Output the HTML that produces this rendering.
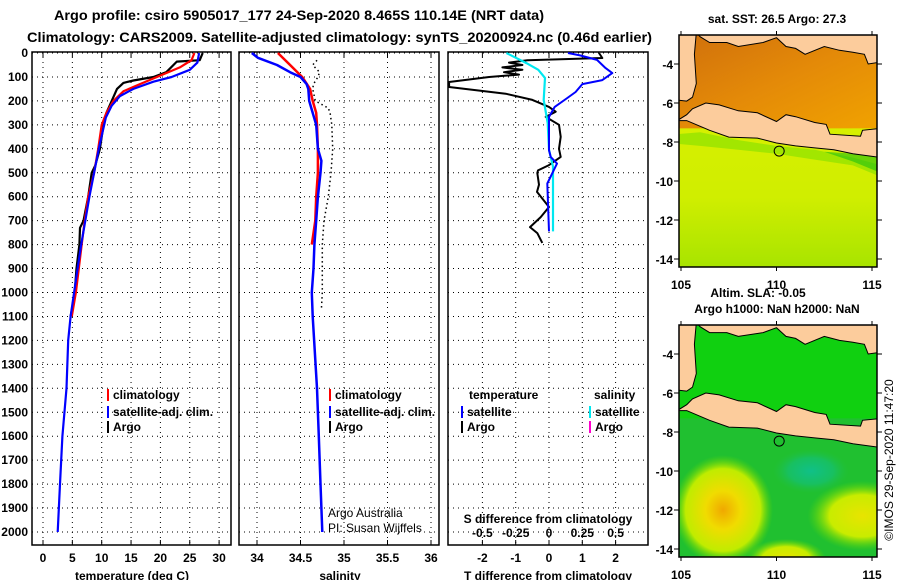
<!DOCTYPE html>
<html><head><meta charset="utf-8"><style>
html,body{margin:0;padding:0;background:#fff;}
svg{display:block;font-family:"Liberation Sans",sans-serif;}
.t{font-weight:bold;font-size:12px;fill:#000;}
.ttl{font-weight:bold;font-size:14px;fill:#000;}
.grid{stroke:#000;stroke-width:1;stroke-dasharray:1,4;fill:none;}
</style></head><body>
<svg id="fig" width="900" height="580" viewBox="0 0 900 580">
<defs>
<clipPath id="c1"><rect x="32" y="52" width="199" height="493"/></clipPath>
<clipPath id="c2"><rect x="239" y="52" width="200" height="493"/></clipPath>
<clipPath id="c3"><rect x="448" y="52" width="200" height="493"/></clipPath>
<clipPath id="cm1"><rect x="679" y="35" width="198" height="232"/></clipPath>
<clipPath id="cm2"><rect x="679" y="325" width="198" height="232"/></clipPath>
<linearGradient id="gN" x1="0" y1="0" x2="1" y2="1">
<stop offset="0" stop-color="#d0700c"/><stop offset="0.5" stop-color="#e48a08"/><stop offset="1" stop-color="#f0a200"/></linearGradient>
<linearGradient id="gS" x1="0" y1="0" x2="0" y2="1">
<stop offset="0" stop-color="#a8e800"/><stop offset="0.3" stop-color="#d8f000"/><stop offset="0.7" stop-color="#d0ee00"/><stop offset="1" stop-color="#a8e400"/></linearGradient>
<radialGradient id="gY" cx="0.5" cy="0.5" r="0.5">
<stop offset="0" stop-color="#f0a800"/><stop offset="0.35" stop-color="#f0dc00"/><stop offset="0.75" stop-color="#c0ec00"/><stop offset="1" stop-color="#60d800" stop-opacity="0"/></radialGradient>
<radialGradient id="gY2" cx="0.5" cy="0.5" r="0.5">
<stop offset="0" stop-color="#e8e400"/><stop offset="0.6" stop-color="#c8ec00"/><stop offset="1" stop-color="#60d800" stop-opacity="0"/></radialGradient>
<radialGradient id="gT" cx="0.5" cy="0.5" r="0.5">
<stop offset="0" stop-color="#10c088"/><stop offset="0.6" stop-color="#18c060"/><stop offset="1" stop-color="#20c040" stop-opacity="0"/></radialGradient>
</defs>

<text class="ttl" x="54" y="20" textLength="490" lengthAdjust="spacingAndGlyphs">Argo profile: csiro 5905017_177 24-Sep-2020 8.465S 110.14E (NRT data)</text>
<text class="ttl" x="27" y="42" textLength="625" lengthAdjust="spacingAndGlyphs">Climatology: CARS2009. Satellite-adjusted climatology: synTS_20200924.nc (0.46d earlier)</text>

<g id="panels"></g>
<g id="maps"></g>
<text class="t" transform="translate(893,460) rotate(-90)" text-anchor="middle" style="font-weight:normal;font-size:12px">©IMOS 29-Sep-2020 11:47:20</text>
</svg>
<script>
// ---------- data ----------
const depthTicks=[0,100,200,300,400,500,600,700,800,900,1000,1100,1200,1300,1400,1500,1600,1700,1800,1900,2000];
const tempTicks=[0,5,10,15,20,25,30];
const salTicks=[34,34.5,35,35.5,36];
const tdiffTicks=[-2,-1,0,1,2];
const sdiffTicks=[-0.5,-0.25,0,0.25,0.5];
const sdiffTickLabels=["-0.5","-0.25","0","0.25","0.5"];

const climTdep=[0,30,60,100,130,160,200,250,300,400,500,600,700,800,1000,1100];
const climTval=[25.8,25.3,23.3,19.4,16.5,13.7,12.0,10.8,10.0,9.4,8.7,7.7,7.1,6.6,5.6,4.9];
const satTdep=[0,40,70,100,120,150,180,220,270,400,500,600,700,800,900,1000,1100,1200,1400,1600,1800,2000];
const satTval=[26.6,26.3,25.0,21.9,18.8,15.4,13.1,11.7,10.7,9.5,8.7,7.9,7.2,6.5,5.9,5.3,4.7,4.3,4.0,3.3,2.9,2.5];
const argoTdep=[0,30,36,80,100,115,125,150,200,250,300,400,470,500,600,700,730,800,900,1000,1050,1100];
const argoTval=[27.2,26.7,22.8,21.0,18.8,15.4,13.7,12.6,11.7,10.8,10.3,9.7,8.9,8.3,7.7,6.9,6.3,6.2,5.7,5.4,5.1,4.7];

const climSdep=[0,50,100,150,200,250,300,400,500,600,700,800];
const climSval=[34.24,34.38,34.52,34.61,34.64,34.68,34.69,34.70,34.70,34.68,34.67,34.63];
const satSdep=[0,20,50,80,100,130,150,200,250,300,400,450,500,600,700,800,900,1000,1100,1400,1600,1800,2000];
const satSval=[33.94,34.01,34.23,34.38,34.50,34.57,34.59,34.60,34.64,34.68,34.70,34.74,34.73,34.70,34.68,34.66,34.65,34.63,34.64,34.69,34.71,34.73,34.75];
const argoSdep=[30,50,80,100,130,150,200,230,250,300,400,500,600,700,800,900,1000,1070];
const argoSval=[34.69,34.64,34.72,34.70,34.65,34.64,34.67,34.82,34.84,34.86,34.87,34.85,34.82,34.77,34.75,34.75,34.75,34.74];

const dTargoDep=[0,21,30,40,50,60,70,80,90,100,121,142,170,196,225,245,267,300,350,400,434,468,490,501,550,580,643,685,727,752,793];
const dTargoVal=[1.5,1.6,-0.65,-1.2,-0.8,-1.4,-0.8,-1.35,-0.9,-1.8,-3.0,-3.0,-1.3,-0.5,0.0,0.2,-0.1,0.3,0.35,0.3,0.35,0.0,-0.33,-0.35,-0.3,-0.36,0.0,-0.25,-0.57,-0.35,-0.2];
const dTsatDep=[0,10,29,63,84,113,130,163,188,225,267,310,406,434,462,545,745];
const dTsatVal=[0.57,0.93,1.44,1.7,1.9,1.6,1.0,0.8,0.55,0.17,0.0,0.0,0.0,0.05,0.24,-0.05,0.0];
const dSsatDep=[0,42,70,104,196,293,404,474,745];
const dSsatVal=[-0.32,-0.17,-0.08,-0.03,-0.04,-0.01,0.0,0.03,0.03];

// ---------- scales ----------
const NS="http://www.w3.org/2000/svg";
const yD=d=>53+d*0.2395;
const xT=t=>43+t*5.87;
const xS=s=>257+(s-34)*87;
const xDT=v=>549+v*33.3;
const xDS=v=>549+v*133.2;
const panels=document.getElementById('panels');
function mk(tag,attrs,parent){const e=document.createElementNS(NS,tag);for(const k in attrs)e.setAttribute(k,attrs[k]);(parent||panels).appendChild(e);return e;}
function txt(s,x,y,anchor,cls,parent){const e=mk('text',{x:x,y:y,'text-anchor':anchor||'start',class:cls||'t'},parent);e.textContent=s;return e;}
function poly(xs,ds,fx,color,w,clip,dash){
  const pts=xs.map((v,i)=>fx(v).toFixed(1)+','+yD(ds[i]).toFixed(1)).join(' ');
  const a={points:pts,fill:'none',stroke:color,'stroke-width':w,'clip-path':'url(#'+clip+')','stroke-linejoin':'round'};
  if(dash)a['stroke-dasharray']=dash;
  return mk('polyline',a);
}
const frames=[[32,231,'c1',tempTicks,xT,tempTicks.map(String)],[239,439,'c2',salTicks,xS,salTicks.map(String)],[448,648,'c3',tdiffTicks,xDT,tdiffTicks.map(String)]];
frames.forEach((f,i)=>{
  const g=mk('g',{});
  
  
  depthTicks.forEach(d=>{mk('line',{x1:f[0],x2:f[1],y1:yD(d),y2:yD(d),class:'grid'},g);});
  f[3].forEach(v=>{const x=f[4](v);mk('line',{x1:x,x2:x,y1:52,y2:545,class:'grid'},g);
    mk('line',{x1:x,x2:x,y1:52,y2:57,stroke:'#000'},g);mk('line',{x1:x,x2:x,y1:540,y2:545,stroke:'#000'},g);});
  mk('rect',{x:f[0],y:52,width:f[1]-f[0],height:493,fill:'none',stroke:'#000','stroke-width':1.5},g);
  f[3].forEach((v,j)=>{const t=txt(f[5][j],f[4](v),562,'middle','t',g);});
});
depthTicks.forEach(d=>{const t=txt(String(d),28,yD(d)+4,'end');
  
  });
[['temperature (deg C)',132],['salinity',340],['T difference from climatology',548]].forEach(a=>{const t=txt(a[0],a[1],580,'middle');
  
  });

// series
let s;
s=poly(argoTval,argoTdep,xT,'#000',2.2,'c1');
s=poly(climTval,climTdep,xT,'#ff0000',2.2,'c1');
s=poly(satTval,satTdep,xT,'#0000ff',2.2,'c1');
s=poly(argoSval,argoSdep,xS,'#000',1.5,'c2','1.5,3');
s=poly(climSval,climSdep,xS,'#ff0000',2.5,'c2');
s=poly(satSval,satSdep,xS,'#0000ff',2.5,'c2');
s=poly(dTargoVal,dTargoDep,xDT,'#000',2,'c3');
s=poly(dSsatVal,dSsatDep,xDS,'#00e8f0',2.2,'c3');
s=poly(dTsatVal,dTsatDep,xDT,'#0000ff',2,'c3');

// legends
function leg(x,y,color,label){const g=mk('g',{});
  
  
  mk('rect',{x:x,y:y-10,width:2,height:12,fill:color},g);txt(label,x+6,y,'start','t',g);}
leg(107,399,'#ff0000','climatology');leg(107,416,'#0000ff','satellite-adj. clim.');leg(107,431,'#000','Argo');
leg(329,399,'#ff0000','climatology');leg(329,416,'#0000ff','satellite-adj. clim.');leg(329,431,'#000','Argo');
txt('temperature',469,399);txt('salinity',594,399);
leg(461,416,'#0000ff','satellite');leg(461,431,'#000','Argo');
leg(589,416,'#00e8f0','satellite');leg(589,431,'#ff00cc','Argo');
let e=txt('Argo Australia',328,517,'start','t');e.style.fontWeight='normal';
e=txt('PI: Susan Wijffels',328,532,'start','t');e.style.fontWeight='normal';
txt('S difference from climatology',548,523,'middle');
sdiffTicks.forEach((v,i)=>{const t=txt(sdiffTickLabels[i],xDS(v),537,'middle');
  
  });

// ---------- maps ----------
const maps=document.getElementById('maps');
function drawMap(off,top,isSST){
  const lx=lon=>681+(lon-105)*19.1, ly=lat=>64+off+(-4-lat)*19.5;
  const P=arr=>arr.map(p=>lx(p[0]).toFixed(1)+','+ly(p[1]).toFixed(1)).join(' ');
  const g=mk('g',{'clip-path':'url(#'+(isSST?'cm1':'cm2')+')'},maps);
  
  
  if(isSST){
    mk('rect',{x:679,y:top,width:198,height:232,fill:'url(#gS)'},g);
    mk('rect',{x:679,y:top,width:198,height:ly(-7.3)-top,fill:'url(#gN)'},g);
    mk('polygon',{points:P([[104.8,-7.6],[106,-7.5],[108,-7.9],[110,-8.2],[112,-8.4],[114,-8.8],[115.5,-9.2],[115.5,-9.8],[114,-9.2],[112,-8.9],[110,-8.6],[108,-8.4],[106,-8.2],[104.8,-8.1]]),fill:'#80e000',opacity:0.6},g);
    mk('polygon',{points:P([[112.5,-8.5],[115.5,-8.7],[115.5,-9.6],[114,-9.0]]),fill:'#20c010',opacity:0.6},g);
  } else {
    mk('rect',{x:679,y:top,width:198,height:232,fill:'#20c030'},g);
    mk('rect',{x:679,y:top,width:198,height:ly(-7.3)-top,fill:'#10d010'},g);
    mk('ellipse',{cx:lx(107.2),cy:ly(-12),rx:50,ry:55,fill:'url(#gY)'},g);
    mk('ellipse',{cx:lx(114.5),cy:ly(-12.3),rx:55,ry:35,fill:'url(#gY2)'},g);
    mk('ellipse',{cx:lx(110.5),cy:ly(-14.5),rx:40,ry:20,fill:'url(#gY2)'},g);
    mk('ellipse',{cx:lx(111.8),cy:ly(-10),rx:38,ry:22,fill:'url(#gT)'},g);
  }
  const land='#fccc9c';
  mk('polygon',{points:P([[104.8,-2.4],[105.8,-2.4],[105.7,-3.5],[105.8,-5.0],[105.6,-5.7],[105.3,-5.9],[104.8,-5.85]]),fill:land,stroke:'#000','stroke-width':1},g);
  mk('polygon',{points:P([[105.8,-2.4],[115.5,-2.4],[115.5,-3.9],[114.8,-4.0],[114.6,-3.5],[114,-3.4],[113.3,-3.3],[112.5,-3.1],[111.5,-3.5],[111,-3.2],[110.5,-3.1],[110,-2.65],[109.3,-2.9],[108,-3.1],[107.4,-2.9],[106.5,-2.9],[106,-2.6]]),fill:land,stroke:'#000','stroke-width':1},g);
  mk('polygon',{points:P([[104.8,-6.9],[105.3,-6.6],[105.6,-6.3],[106.3,-6.0],[107,-6.1],[108,-6.4],[109,-6.5],[110,-6.95],[110.5,-6.6],[111,-6.7],[112,-7.0],[112.6,-7.1],[112.8,-7.6],[114.4,-7.7],[114.5,-7.4],[115.5,-7.3],[115.5,-8.8],[114,-8.6],[113,-8.4],[112,-8.3],[111,-8.2],[110,-8.05],[109,-7.8],[107.5,-7.75],[106.5,-7.4],[105.3,-6.9]]),fill:land,stroke:'#000','stroke-width':1},g);
  mk('circle',{cx:lx(110.14),cy:ly(-8.465),r:5,fill:'none',stroke:'#000','stroke-width':1},maps);
  mk('rect',{x:679,y:top,width:198,height:232,fill:'none',stroke:'#000','stroke-width':1.5},maps);
  [-4,-6,-8,-10,-12,-14].forEach(l=>{mk('line',{x1:674,x2:679,y1:ly(l),y2:ly(l),stroke:'#000'},maps);mk('line',{x1:877,x2:882,y1:ly(l),y2:ly(l),stroke:'#000'},maps);
    const t=txt(String(l),673,ly(l)+5,'end','t',maps);});
  [105,110,115].forEach(l=>{mk('line',{x1:lx(l),x2:lx(l),y1:top-4,y2:top,stroke:'#000'},maps);mk('line',{x1:lx(l),x2:lx(l),y1:top+232,y2:top+236,stroke:'#000'},maps);
    const t=txt(String(l),lx(l),top+254,'middle','t',maps);});
}
drawMap(0,35,true);
drawMap(290,325,false);
txt('sat. SST: 26.5 Argo: 27.3',777,23,'middle','t',maps);
txt('Altim. SLA: -0.05',758,297,'middle','t',maps);
txt('Argo h1000: NaN h2000: NaN',777,313,'middle','t',maps);
</script>
</body></html>
